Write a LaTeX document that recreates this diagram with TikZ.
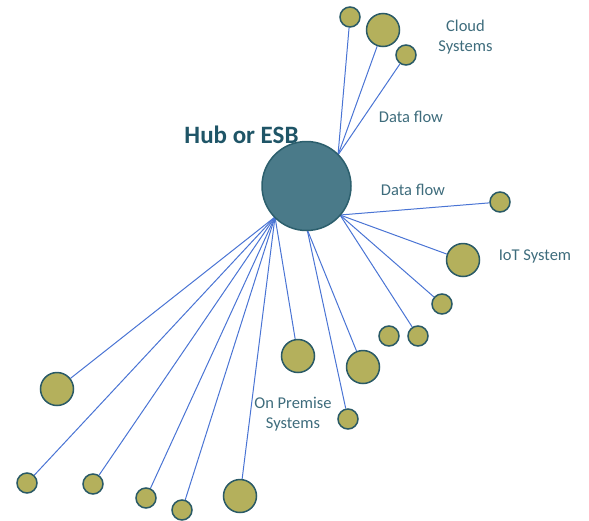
\documentclass[tikz,border=0pt]{standalone}
\usepackage{fontspec}
\setmainfont{Carlito}
\usetikzlibrary{backgrounds}
\definecolor{hubfill}{HTML}{4A7A89}
\definecolor{hubdraw}{HTML}{2C5F6D}
\definecolor{dotfill}{HTML}{B4B05C}
\definecolor{dotdraw}{HTML}{2A5A66}
\definecolor{flow}{HTML}{4A74D4}
\definecolor{labeltxt}{HTML}{3E6C7C}
\definecolor{hubtxt}{HTML}{1F5567}
\tikzset{
  hub/.style={circle, fill=hubfill, draw=hubdraw, line width=1.5pt, minimum size=89pt, inner sep=0pt},
  bigdot/.style={circle, fill=dotfill, draw=dotdraw, line width=1.5pt, minimum size=33pt, inner sep=0pt},
  smalldot/.style={circle, fill=dotfill, draw=dotdraw, line width=1.5pt, minimum size=20pt, inner sep=0pt},
  flowline/.style={draw=flow, line width=1pt},
  lbl/.style={text=labeltxt, font=\fontsize{16.5}{20}\selectfont, inner sep=0pt, align=center},
}
\begin{document}
\begin{tikzpicture}[x=1pt,y=-1pt]
\useasboundingbox (0,0) rectangle (589,520);
% hub and connection points on its rim
\node[hub] (hub) at (306.5,186) {};
\coordinate (ptop) at (338,155);
\coordinate (pright) at (340,215);
\coordinate (pbot) at (307,229);
\coordinate (pleft) at (275,217);
% systems
\node[smalldot] (c1) at (350,17) {};
\node[bigdot] (c2) at (383,30) {};
\node[smalldot] (c3) at (406,55) {};
\node[smalldot] (r1) at (500,202) {};
\node[bigdot] (r2) at (463,260) {};
\node[smalldot] (r3) at (442,304) {};
\node[smalldot] (r4) at (418,336) {};
\node[smalldot] (r5) at (389,336) {};
\node[bigdot] (b1) at (363,367) {};
\node[smalldot] (b2) at (348,419) {};
\node[bigdot] (b3) at (298,356) {};
\node[bigdot] (l1) at (57,389) {};
\node[smalldot] (l2) at (27,483) {};
\node[smalldot] (l3) at (93,484) {};
\node[smalldot] (l4) at (146,498) {};
\node[smalldot] (l5) at (182,510) {};
\node[bigdot] (l6) at (240,496) {};
% connectors under the circles
\begin{pgfonlayer}{background}
\foreach \t in {c1,c2,c3} \draw[flowline] (ptop) -- (\t);
\foreach \t in {r1,r2,r3,r4} \draw[flowline] (pright) -- (\t);
\foreach \t in {b1,b2} \draw[flowline] (pbot) -- (\t);
\foreach \t in {b3,l1,l2,l3,l4,l5,l6} \draw[flowline] (pleft) -- (\t);
\end{pgfonlayer}
% labels
\node[text=hubtxt, font=\bfseries\fontsize{25}{30}\selectfont, inner sep=0pt] (hubl) at (241.5,135) {Hub or ESB};
\node[lbl] (cloud) at (465.5,37) {Cloud\\Systems};
\node[lbl] (df1) at (411,117) {Data flow};
\node[lbl] (df2) at (413,190) {Data flow};
\node[lbl] (iot) at (535,256) {IoT System};
\node[lbl] (onp) at (293,414) {On Premise\\Systems};
\end{tikzpicture}
\end{document}
